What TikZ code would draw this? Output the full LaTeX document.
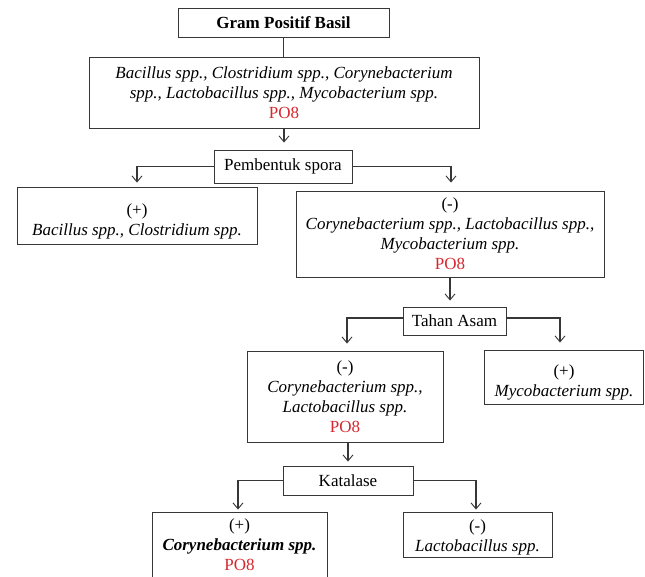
\documentclass[tikz,border=0pt]{standalone}
\usepackage{fontspec}
\setmainfont{Liberation Serif}
\usetikzlibrary{arrows.meta}
\definecolor{poRed}{RGB}{214,40,46}
\definecolor{lineGray}{RGB}{55,55,55}
\newcommand{\downstrut}[1]{\rule{0pt}{#1}}
\begin{document}
\begin{tikzpicture}[x=1pt,y=-1pt,
  txt/.style={font=\fontsize{17}{20}\selectfont},
  box/.style={draw=lineGray, line width=0.9pt, inner sep=0pt, align=center, txt},
  conn/.style={draw=lineGray, line width=1.1pt},
  arr/.style={conn, -{Straight Barb[length=6pt,width=10pt,line width=0.9pt]}},
]
\useasboundingbox (0,0) rectangle (645,576);
\clip (0,0) rectangle (645,576);
\fill[white] (0,0) rectangle (645,576);

\node[box, minimum width=211pt, minimum height=29pt, font=\fontsize{17}{20}\selectfont\bfseries] (gram) at (283.5,22.5) {Gram Positif Basil};
\node[box, minimum width=390pt, minimum height=71pt] (all) at (284,92.5)
  {\textit{Bacillus spp., Clostridium spp., Corynebacterium}\\
   \textit{spp., Lactobacillus spp., Mycobacterium spp.}\\
   \textcolor{poRed}{PO8}};
\node[box, minimum width=138pt, minimum height=33pt] (spora) at (283,166.5) {Pembentuk spora};
\node[box, minimum width=240pt, minimum height=57pt] (plus1) at (137,215.5)
  {\downstrut{24pt}(+)\\ \textit{Bacillus spp., Clostridium spp.}};
\node[box, minimum width=308pt, minimum height=86pt] (minus1) at (450,234)
  {(-)\\ \textit{Corynebacterium spp., Lactobacillus spp.,}\\
   \textit{Mycobacterium spp.}\\ \textcolor{poRed}{PO8}};
\node[box, minimum width=103pt, minimum height=28pt] (tahan) at (454.5,321) {Tahan Asam};
\node[box, minimum width=196pt, minimum height=91pt] (cl) at (345,396.5)
  {(-)\\ \textit{Corynebacterium spp.,}\\ \textit{Lactobacillus spp.}\\ \textcolor{poRed}{PO8}};
\node[box, minimum width=159pt, minimum height=54pt] (myco) at (564,377)
  {\downstrut{23pt}(+)\\ \textit{Mycobacterium spp.}};
\node[box, minimum width=130pt, minimum height=29pt] (kat) at (348,480.5) {Katalase};
\node[box, minimum width=175pt, minimum height=66pt] (cor) at (239.5,545)
  {(+)\\ \textbf{\textit{Corynebacterium spp.}}\\ \textcolor{poRed}{PO8}};
\node[box, minimum width=149pt, minimum height=45pt] (lac) at (477.5,534.5)
  {\downstrut{18pt}(-)\\ \textit{Lactobacillus spp.}};

\draw[conn] (gram.south) -- (gram.south |- all.north);
\draw[arr, shorten >=7pt] (all.south) -- (all.south |- spora.north);
\draw[arr, shorten >=4pt] (spora.west) -| (plus1.north);
\draw[arr, shorten >=8pt] (spora.east) -| ([xshift=1pt]minus1.north);
\draw[arr, shorten >=6pt] (minus1.south) -- (minus1.south |- tahan.north);
\draw[arr, shorten >=7pt] ([yshift=3pt]tahan.west) -| ([xshift=2pt]cl.north);
\draw[arr, shorten >=7pt] ([yshift=3pt]tahan.east) -| ([xshift=-4pt]myco.north);
\draw[arr, shorten >=4pt] (kat.north |- cl.south) -- (kat.north);
\draw[arr, shorten >=2pt] (kat.west) -| ([xshift=-1.5pt]cor.north);
\draw[arr, shorten >=2pt] (kat.east) -| ([xshift=-1.5pt]lac.north);
\end{tikzpicture}
\end{document}
